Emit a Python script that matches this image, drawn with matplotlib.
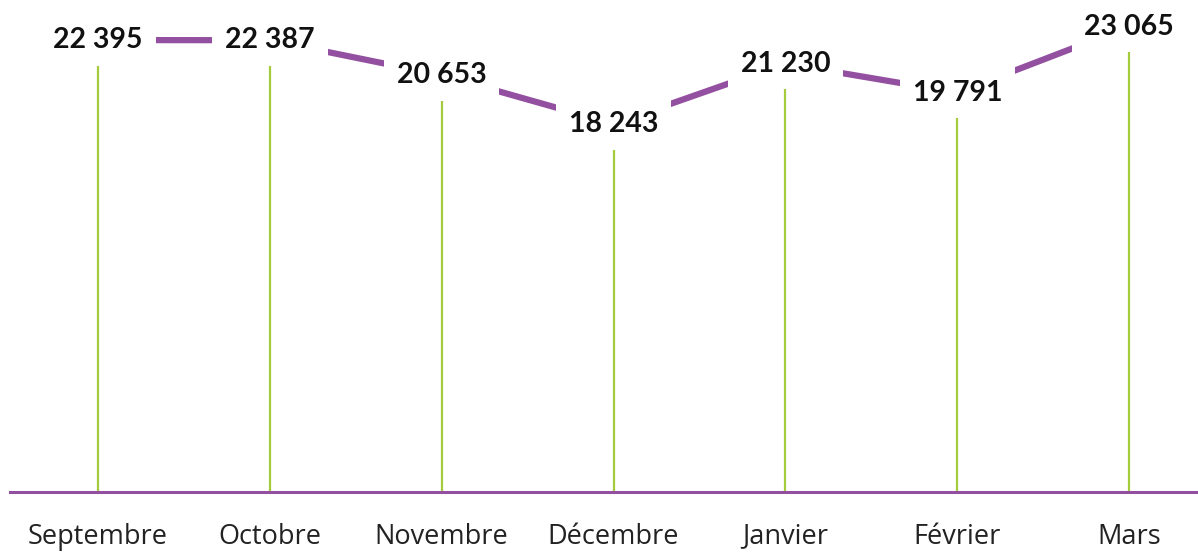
import matplotlib
matplotlib.use('Agg')
import matplotlib.pyplot as plt
import numpy as np

months = ['Septembre', 'Octobre', 'Novembre', 'Décembre', 'Janvier', 'Février', 'Mars']
values = [22395, 22387, 20653, 18243, 21230, 19791, 23065]
value_labels = ['22 395', '22 387', '20 653', '18 243', '21 230', '19 791', '23 065']

PURPLE = '#9450A0'
GREEN = '#A4CC3C'

fig = plt.figure(figsize=(11.98, 5.52), dpi=100)
ax = fig.add_axes([10 / 1198, 60 / 552, 1 - 10 / 1198, 1 - 60 / 552])

x = np.arange(len(months))
ax.vlines(x, 0, values, color=GREEN, linewidth=1.6, zorder=1)
ax.plot(x, values, color=PURPLE, linewidth=4.5, solid_capstyle='butt', zorder=2)

for xi, v, lbl in zip(x, values, value_labels):
    ax.text(xi, v, lbl, ha='center', va='center', fontsize=20.5,
            fontweight='bold', family='Lato', color='#111111', zorder=3,
            bbox=dict(boxstyle='square,pad=0.45', fc='white', ec='none'))

ax.set_xlim(-0.512, 6.40)
ax.set_ylim(0, 24380)
ax.axhline(0, color=PURPLE, linewidth=2.2, zorder=4, clip_on=False)

for s in ax.spines.values():
    s.set_visible(False)
ax.set_yticks([])
ax.set_xticks(x)
ax.set_xticklabels(months, fontsize=19.5, family='Open Sans', color='#222222')
ax.tick_params(axis='x', length=0, pad=22)

fig.savefig('out.png', dpi=100)
